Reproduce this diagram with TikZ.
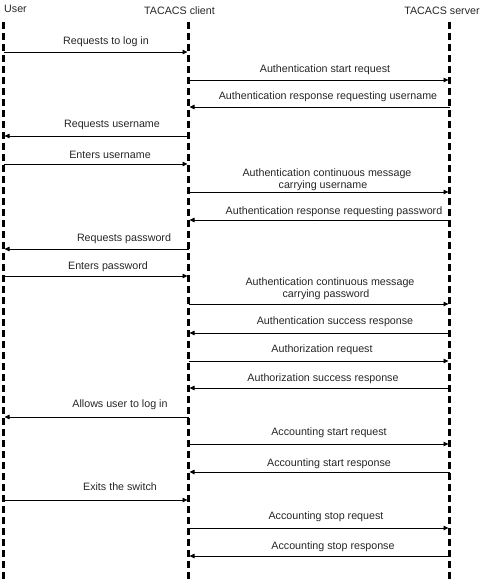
\documentclass[tikz,border=0pt]{standalone}
\usepackage{fontspec}
\setmainfont{Liberation Sans}
\usetikzlibrary{arrows.meta}
\begin{document}
\begin{tikzpicture}[x=1pt,y=-1pt,
  lifeline/.style={line width=2.6pt,dash pattern=on 7pt off 4pt},
  msg/.style={line width=0.8pt,-{Triangle[length=5pt,width=4.5pt]},shorten >=1pt},
  lbl/.style={anchor=base,inner sep=0pt,text=black!85,font=\fontsize{10.7}{12.8}\selectfont},
  hdr/.style={anchor=base,inner sep=0pt,text=black!85,font=\fontsize{10.7}{12.8}\selectfont}]
\useasboundingbox (0,0) rectangle (484,580);
% headers
\node[hdr,anchor=base west] (huser) at (4,13) {User};
\node[hdr] (hclient) at (179.5,15) {TACACS client};
\node[hdr] (hserver) at (442,15) {TACACS server};
% lifelines
\coordinate (U) at (3.5,22);
\coordinate (C) at (188.5,22);
\coordinate (S) at (449.5,22);
\coordinate (Ub) at (3.5,580);
\coordinate (Cb) at (188.5,580);
\coordinate (Sb) at (449.5,580);
\draw[lifeline] (U) -- (Ub);
\draw[lifeline] (C) -- (Cb);
\draw[lifeline] (S) -- (Sb);
% messages
\draw[msg] (U |- 0,52) -- (C |- 0,52);
\node[lbl] (t1) at (106,45) {Requests to log in};
\draw[msg] (C |- 0,80) -- (S |- 0,80);
\node[lbl] (t2) at (325,73) {Authentication start request};
\draw[msg] (S |- 0,107) -- (C |- 0,107);
\node[lbl] (t3) at (328,100) {Authentication response requesting username};
\draw[msg] (C |- 0,136) -- (U |- 0,136);
\node[lbl] (t4) at (112,128) {Requests username};
\draw[msg] (U |- 0,164) -- (C |- 0,164);
\node[lbl] (t5) at (110,158) {Enters username};
\draw[msg] (C |- 0,192) -- (S |- 0,192);
\node[lbl] (t6a) at (327,176.5) {Authentication continuous message};
\node[lbl] (t6b) at (323,188.5) {carrying username};
\draw[msg] (S |- 0,220) -- (C |- 0,220);
\node[lbl] (t7) at (334,214) {Authentication response requesting password};
\draw[msg] (C |- 0,249) -- (U |- 0,249);
\node[lbl] (t8) at (124,241) {Requests password};
\draw[msg] (U |- 0,276) -- (C |- 0,276);
\node[lbl] (t9) at (108,269) {Enters password};
\draw[msg] (C |- 0,304) -- (S |- 0,304);
\node[lbl] (t10a) at (330,285) {Authentication continuous message};
\node[lbl] (t10b) at (326,297) {carrying password};
\draw[msg] (S |- 0,333) -- (C |- 0,333);
\node[lbl] (t11) at (335,324) {Authentication success response};
\draw[msg] (C |- 0,361) -- (S |- 0,361);
\node[lbl] (t12) at (322,352) {Authorization request};
\draw[msg] (S |- 0,388) -- (C |- 0,388);
\node[lbl] (t13) at (323,381) {Authorization success response};
\draw[msg] (C |- 0,417) -- (U |- 0,417);
\node[lbl] (t14) at (120,407) {Allows user to log in};
\draw[msg] (C |- 0,444) -- (S |- 0,444);
\node[lbl] (t15) at (329,435) {Accounting start request};
\draw[msg] (S |- 0,472) -- (C |- 0,472);
\node[lbl] (t16) at (329,466) {Accounting start response};
\draw[msg] (U |- 0,500) -- (C |- 0,500);
\node[lbl] (t17) at (120,490) {Exits the switch};
\draw[msg] (C |- 0,528) -- (S |- 0,528);
\node[lbl] (t18) at (326,519) {Accounting stop request};
\draw[msg] (S |- 0,556) -- (C |- 0,556);
\node[lbl] (t19) at (333,549) {Accounting stop response};
\end{tikzpicture}
\end{document}
